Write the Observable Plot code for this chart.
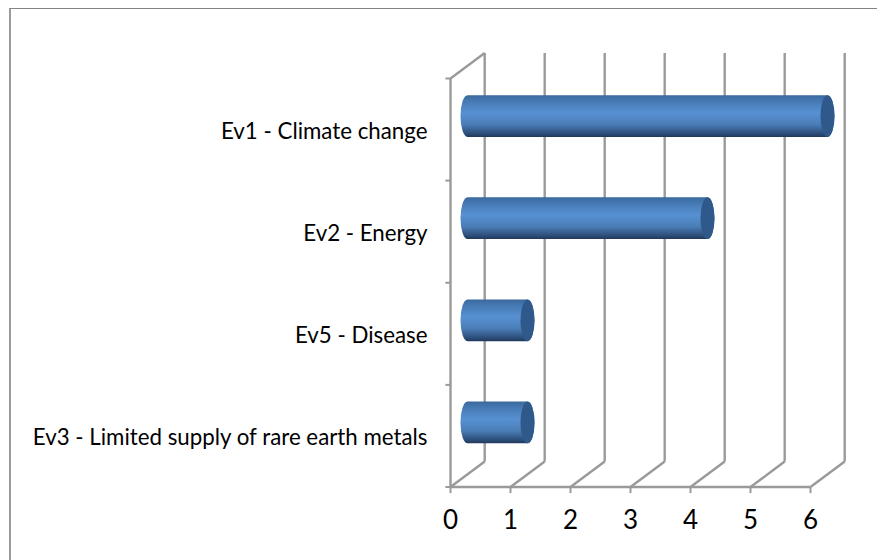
<!DOCTYPE html>
<html>
<head>
<meta charset="utf-8">
<script src="https://cdn.jsdelivr.net/npm/d3@7"></script>
<script src="https://cdn.jsdelivr.net/npm/@observablehq/plot@0.6"></script>
<style>
html,body{margin:0;padding:0;background:#fff;overflow:hidden}
#chart{position:absolute;left:0;top:0;width:877px;height:560px}
#box{position:absolute;left:9px;top:8px;right:0;bottom:0;border-top:1px solid #858585;border-left:2px solid #9a9a9a}
svg text{fill:#000}
</style>
</head>
<body>
<div id="box"></div>
<div id="chart"></div>
<script>
const categories = ["Ev1 - Climate change", "Ev2 - Energy", "Ev5 - Disease", "Ev3 - Limited supply of rare earth metals"];
const values = [6, 4, 1, 1];
const xTicks = [0, 1, 2, 3, 4, 5, 6];
const yEdges = [0, 1, 2, 3, 4];
const rows = categories.map((name, i) => ({name, value: values[i], pos: categories.length - i - 0.5}));

const depthX = 0.57, depthY = 0.25;
const gridColor = "#9a9a9a";
const barHalf = 0.205, capHalf = 0.117;
const ox = 17.5, oy = -13;

const defs = () => {
  const ns = "http://www.w3.org/2000/svg";
  const d = document.createElementNS(ns, "defs");
  d.innerHTML = `<linearGradient id="cyl" x1="0" y1="0" x2="0" y2="1">
    <stop offset="0" stop-color="#3a689c"/>
    <stop offset="0.12" stop-color="#4477b0"/>
    <stop offset="0.42" stop-color="#5791d3"/>
    <stop offset="0.7" stop-color="#4a7db6"/>
    <stop offset="0.92" stop-color="#2c4d78"/>
    <stop offset="1" stop-color="#20375a"/>
  </linearGradient>`;
  return d;
};

const chart = Plot.plot({
  width: 877,
  height: 560,
  marginLeft: 0, marginRight: 0, marginTop: 0, marginBottom: 0,
  style: {background: "transparent", fontFamily: "Lato, sans-serif", overflow: "visible"},
  x: {domain: [0, 6], range: [450, 810], axis: null},
  y: {domain: [0, 4], range: [486.5, 78], axis: null},
  marks: [
    defs,
    Plot.link(xTicks, {x1: d => d + depthX, x2: d => d + depthX, y1: depthY, y2: 4 + depthY, stroke: gridColor, strokeWidth: 2.4}),
    Plot.link(xTicks, {x1: d => d, x2: d => d + depthX, y1: 0, y2: depthY, stroke: gridColor, strokeWidth: 2.4}),
    Plot.link([0], {x1: 0, x2: depthX, y1: 4, y2: 4 + depthY, stroke: gridColor, strokeWidth: 2.4}),
    Plot.ruleX([0], {y1: 0, y2: 4, stroke: gridColor, strokeWidth: 2.4}),
    Plot.ruleY([0], {x1: 0, x2: 6, stroke: gridColor, strokeWidth: 2.4}),
    Plot.link(yEdges, {x1: -0.085, x2: 0, y1: d => d, y2: d => d, stroke: gridColor, strokeWidth: 2}),
    Plot.link(xTicks, {x1: d => d, x2: d => d, y1: 0, y2: -0.06, stroke: gridColor, strokeWidth: 2}),
    Plot.rect(rows, {x1: 0, x2: d => d.value, y1: d => d.pos - barHalf, y2: d => d.pos + barHalf,
      fill: "url(#cyl)", dx: ox, dy: oy, insetLeft: -7, insetRight: -7, rx: 7, ry: 21}),
    Plot.rect(rows, {x1: d => d.value - capHalf, x2: d => d.value + capHalf, y1: d => d.pos - barHalf, y2: d => d.pos + barHalf,
      fill: "#30598b", dx: ox, dy: oy, rx: 7, ry: 21}),
    Plot.text(rows, {x: 0, y: "pos", text: "name", textAnchor: "end", dx: -23, dy: 2, fontSize: 22.3}),
    Plot.text(xTicks, {x: d => d, y: 0, text: d => String(d), dy: 34, fontSize: 26})
  ]
});
document.getElementById("chart").append(chart);
</script>
</body>
</html>
